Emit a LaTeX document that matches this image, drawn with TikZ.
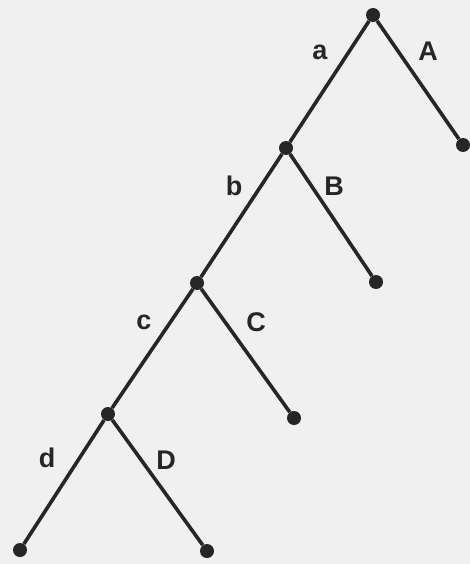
\documentclass[tikz,border=0pt]{standalone}
\usepackage{fontspec}
\setmainfont{Liberation Sans}
\begin{document}
\begin{tikzpicture}[x=1pt,y=-1pt,
  dot/.style={circle,fill=black!85,inner sep=0pt,minimum size=14pt},
  edge/.style={line width=3.6pt,draw=black!85},
  lab/.style={font=\fontsize{27}{30}\selectfont\bfseries,text=black!85,inner sep=0pt}]
\fill[black!6] (0,0) rectangle (470,564);
\useasboundingbox (0,0) rectangle (470,564);
\node[dot] (n1) at (373,15) {};
\node[dot] (eA) at (463,145) {};
\node[dot] (n2) at (286,148) {};
\node[dot] (eB) at (376,282) {};
\node[dot] (n3) at (197,283) {};
\node[dot] (eC) at (294,418) {};
\node[dot] (n4) at (108,414) {};
\node[dot] (eD) at (207,551) {};
\node[dot] (ed) at (20,550) {};
\draw[edge] (n1) -- (eA);
\draw[edge] (n1) -- (n2);
\draw[edge] (n2) -- (eB);
\draw[edge] (n2) -- (n3);
\draw[edge] (n3) -- (eC);
\draw[edge] (n3) -- (n4);
\draw[edge] (n4) -- (eD);
\draw[edge] (n4) -- (ed);
\node[lab] (la) at (320,52) {a};
\node[lab] (lA) at (428,51) {A};
\node[lab] (lb) at (234,186) {b};
\node[lab] (lB) at (334,186) {B};
\node[lab] (lc) at (144,322) {c};
\node[lab] (lC) at (256,322) {C};
\node[lab] (ld) at (47,458) {d};
\node[lab] (lD) at (166,460) {D};
\end{tikzpicture}
\end{document}
